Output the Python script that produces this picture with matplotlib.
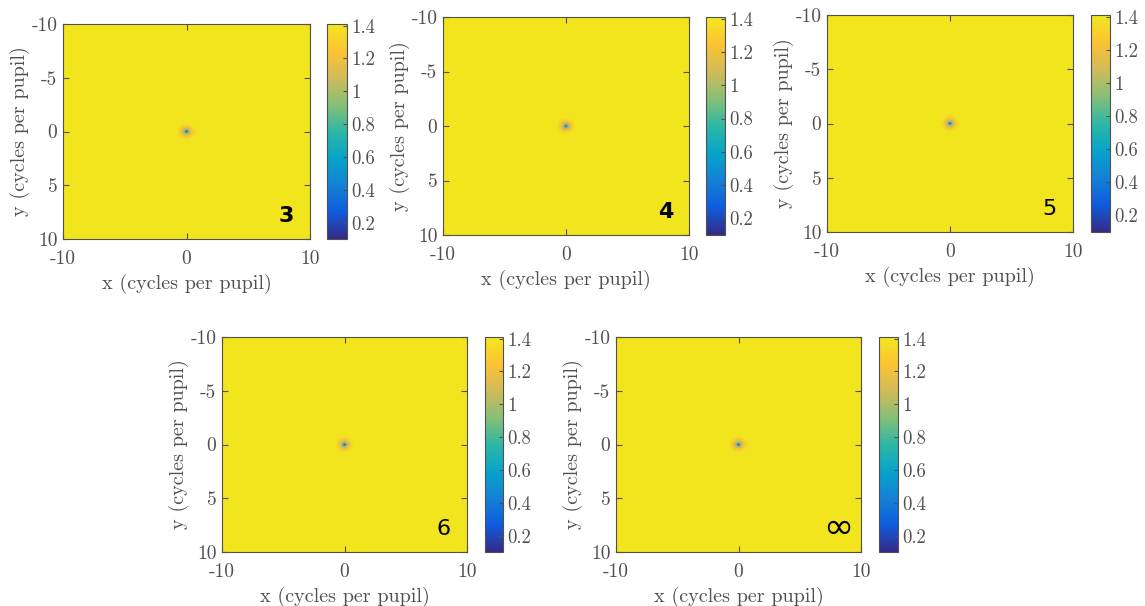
import numpy as np
import matplotlib
matplotlib.use("Agg")
import matplotlib.pyplot as plt
from matplotlib.colors import LinearSegmentedColormap

# panel labels (number of terms) and the map data
panel_labels = ["3", "4", "5", "6", "\u221e"]
label_weights = ["bold", "bold", "normal", "normal", "normal"]
x_range = [-10, 10]
y_range = [-10, 10]
background_value = 1.4
n_cells = 101
# values near the origin (7x7 cells around the centre)
centre_patch = [
    [1.40, 1.38, 1.34, 1.32, 1.34, 1.38, 1.40],
    [1.38, 1.30, 1.24, 1.20, 1.24, 1.30, 1.38],
    [1.34, 1.24, 1.05, 0.95, 1.05, 1.24, 1.34],
    [1.32, 1.20, 0.95, 0.30, 0.95, 1.20, 1.32],
    [1.34, 1.24, 1.05, 0.95, 1.05, 1.24, 1.34],
    [1.38, 1.30, 1.24, 1.20, 1.24, 1.30, 1.38],
    [1.40, 1.38, 1.34, 1.32, 1.34, 1.38, 1.40],
]
clim = [0.1, 1.41]
cbar_ticks = [0.2, 0.4, 0.6, 0.8, 1.0, 1.2, 1.4]
cbar_ticklabels = ["0.2", "0.4", "0.6", "0.8", "1", "1.2", "1.4"]
axis_ticks = [-10, -5, 0, 5, 10]
x_ticklabels = ["-10", "0", "10"]
y_ticklabels = ["-10", "-5", "0", "5", "10"]

parula = LinearSegmentedColormap.from_list(
    "parula", ["#352A87", "#0F5CDD", "#1481D6", "#06A4CA", "#2EB7A4",
               "#87BF77", "#D1BB59", "#FCC332", "#F2E71E"])

plt.rcParams['font.family'] = 'cmr10'
plt.rcParams['axes.unicode_minus'] = False
plt.rcParams['mathtext.fontset'] = 'cm'

W, H = 1145, 606
fig = plt.figure(figsize=(W / 100, H / 100), dpi=100)

# pixel boxes: (left, top, right, bottom) for axes and colorbar
ax_boxes = [(63, 24, 310, 239), (443, 17, 689, 235), (827, 15, 1073, 232),
            (222, 337, 467, 552), (616, 337, 861, 552)]
cb_boxes = [(327, 24, 347, 239), (706, 17, 725, 235), (1091, 15, 1110, 232),
            (485, 337, 503, 552), (879, 337, 898, 552)]


def to_rect(b):
    l, t, r, bt = b
    return [l / W, 1 - bt / H, (r - l) / W, (bt - t) / H]


grey = '#505050'
field = np.full((n_cells, n_cells), background_value)
c = n_cells // 2
patch = np.array(centre_patch)
k = patch.shape[0] // 2
field[c - k:c + k + 1, c - k:c + k + 1] = patch

for i, lab in enumerate(panel_labels):
    ax = fig.add_axes(to_rect(ax_boxes[i]))
    im = ax.imshow(field, cmap=parula, vmin=clim[0], vmax=clim[1],
                   extent=[x_range[0], x_range[1], y_range[1], y_range[0]],
                   origin='upper', aspect='auto', interpolation='bilinear')
    ax.set_xlim(x_range)
    ax.set_ylim(y_range[1], y_range[0])
    ax.set_xticks([-10, 0, 10])
    ax.set_xticklabels(x_ticklabels)
    ax.set_yticks(axis_ticks)
    ax.set_yticklabels(y_ticklabels)
    ax.tick_params(direction='in', length=4, width=0.8, colors=grey,
                   labelsize=14, top=True, right=True, pad=4)
    ax.tick_params(axis='x', pad=8)
    for s in ax.spines.values():
        s.set_color(grey)
        s.set_linewidth(0.8)
    ax.set_xlabel('x (cycles per pupil)', fontsize=14.5, color=grey, labelpad=4)
    ax.set_ylabel('y (cycles per pupil)', fontsize=14.5, color=grey, labelpad=1)
    if lab == "\u221e":
        ax.text(8.1, 7.8, lab, fontsize=26, fontweight='normal', color='black',
                ha='center', va='center', family='DejaVu Sans')
    else:
        ax.text(8.1, 7.9, lab, fontsize=16, fontweight=label_weights[i],
                color='black', ha='center', va='center', family='DejaVu Sans')

    cax = fig.add_axes(to_rect(cb_boxes[i]))
    cb = fig.colorbar(im, cax=cax)
    cb.set_ticks(cbar_ticks)
    cb.set_ticklabels(cbar_ticklabels)
    cb.outline.set_edgecolor(grey)
    cb.outline.set_linewidth(0.8)
    cax.tick_params(direction='in', length=3, width=0.8, colors=grey,
                    labelsize=13.5, pad=3)

fig.savefig('out.png', dpi=100)
